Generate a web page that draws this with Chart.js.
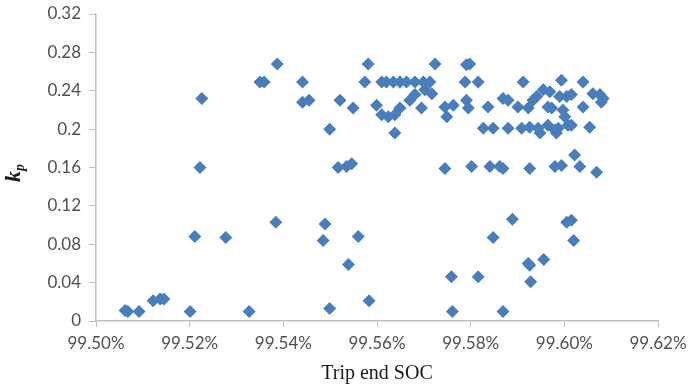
<!doctype html>
<html lang="en">
<head>
    <meta charset="UTF-8" />
    <title>Trip end SOC vs kp</title>
    <style>
        body {
            margin: 0;
            background: #fff;
        }
        .chart-container {
            position: relative;
            width: 689px;
            height: 387px;
        }
    </style>
</head>
<body>
    <div class="chart-container">
        <canvas id="kpChart"></canvas>
    </div>

    <script src="https://cdn.jsdelivr.net/npm/chart.js"></script>
    <script>
        // Trip end SOC (%) and kp
        const tripEndSoc = [
            99.5062, 99.5068, 99.5092, 99.5122, 99.5137, 99.5145, 99.5201, 99.5211, 99.5222, 99.5226,
            99.5277, 99.5327, 99.5350, 99.5359, 99.5384, 99.5387, 99.5441, 99.5441, 99.5455, 99.5485,
            99.5489, 99.5499, 99.5499, 99.5517, 99.5521, 99.5535, 99.5539, 99.5546, 99.5549, 99.5560,
            99.5574, 99.5581, 99.5583, 99.5599, 99.5610, 99.5610, 99.5620, 99.5624, 99.5635, 99.5638,
            99.5638, 99.5649, 99.5649, 99.5663, 99.5670, 99.5681, 99.5681, 99.5695, 99.5699, 99.5702,
            99.5713, 99.5717, 99.5724, 99.5745, 99.5749, 99.5745, 99.5759, 99.5761, 99.5763, 99.5788,
            99.5791, 99.5798, 99.5791, 99.5795, 99.5802, 99.5816, 99.5816, 99.5827, 99.5837, 99.5841,
            99.5848, 99.5848, 99.5862, 99.5869, 99.5869, 99.5869, 99.5880, 99.5880, 99.5889, 99.5901,
            99.5909, 99.5912, 99.5923, 99.5923, 99.5926, 99.5926, 99.5926, 99.5928, 99.5933, 99.5941,
            99.5944, 99.5948, 99.5955, 99.5956, 99.5965, 99.5965, 99.5969, 99.5973, 99.5980, 99.5980,
            99.5983, 99.5987, 99.5990, 99.5994, 99.5994, 99.5997, 99.6001, 99.6005, 99.6005, 99.6008,
            99.6015, 99.6015, 99.6015, 99.6020, 99.6022, 99.6033, 99.6040, 99.6040, 99.6054, 99.6061,
            99.6069, 99.6076, 99.6079, 99.6083
        ];
        const kpValues = [
            0.011, 0.010, 0.010, 0.021, 0.023, 0.023, 0.010, 0.088, 0.160, 0.232,
            0.087, 0.010, 0.249, 0.249, 0.103, 0.268, 0.249, 0.228, 0.230, 0.084,
            0.101, 0.200, 0.013, 0.160, 0.230, 0.161, 0.059, 0.164, 0.222, 0.088,
            0.249, 0.268, 0.021, 0.225, 0.249, 0.215, 0.249, 0.213, 0.249, 0.215,
            0.196, 0.249, 0.222, 0.249, 0.230, 0.236, 0.249, 0.222, 0.249, 0.241,
            0.249, 0.237, 0.268, 0.223, 0.213, 0.159, 0.046, 0.010, 0.225, 0.249,
            0.267, 0.268, 0.230, 0.222, 0.161, 0.249, 0.046, 0.201, 0.223, 0.161,
            0.201, 0.087, 0.161, 0.232, 0.159, 0.010, 0.230, 0.201, 0.106, 0.223,
            0.201, 0.249, 0.222, 0.060, 0.202, 0.159, 0.058, 0.041, 0.230, 0.234,
            0.201, 0.196, 0.241, 0.064, 0.223, 0.204, 0.239, 0.222, 0.199, 0.161,
            0.196, 0.201, 0.234, 0.251, 0.162, 0.220, 0.213, 0.234, 0.103, 0.204,
            0.236, 0.204, 0.105, 0.084, 0.173, 0.161, 0.249, 0.223, 0.202, 0.237,
            0.155, 0.236, 0.228, 0.232
        ];
        const xTicks = [99.50, 99.52, 99.54, 99.56, 99.58, 99.60, 99.62];
        const yTicks = [0, 0.04, 0.08, 0.12, 0.16, 0.2, 0.24, 0.28, 0.32];

        const points = tripEndSoc.map((x, i) => ({ x: x, y: kpValues[i] }));

        const axisGrey = '#bfbfbf';
        const tickFont = { family: 'Lato', size: 17 };

        // axis titles: x title in serif, y title k with subscript p
        const axisTitles = {
            id: 'axisTitles',
            afterDraw(chart) {
                const ctx = chart.ctx;
                const area = chart.chartArea;
                ctx.save();
                ctx.fillStyle = '#1a1a1a';
                ctx.textAlign = 'center';
                ctx.textBaseline = 'middle';
                ctx.font = '20px "Liberation Serif"';
                ctx.fillText('Trip end SOC', (area.left + area.right) / 2, 374);

                ctx.translate(14, 172);
                ctx.rotate(-Math.PI / 2);
                ctx.textAlign = 'left';
                ctx.textBaseline = 'alphabetic';
                ctx.font = 'italic bold 22px "Liberation Serif"';
                const kw = ctx.measureText('k').width;
                ctx.fillText('k', -10, 6);
                ctx.font = 'italic bold 14px "Liberation Serif"';
                ctx.fillText('p', -10 + kw, 10);
                ctx.restore();
            }
        };

        const ctx = document.getElementById('kpChart').getContext('2d');
        new Chart(ctx, {
            type: 'scatter',
            data: {
                datasets: [{
                    label: 'kp',
                    data: points,
                    pointStyle: 'rectRot',
                    pointRadius: 6.5,
                    pointHoverRadius: 6.5,
                    backgroundColor: '#4a7ebb',
                    borderColor: '#4a7ebb',
                    borderWidth: 0
                }]
            },
            options: {
                responsive: true,
                maintainAspectRatio: false,
                animation: false,
                layout: {
                    padding: { top: 14, right: 31, left: 0, bottom: 0 }
                },
                plugins: {
                    legend: { display: false },
                    tooltip: { enabled: false }
                },
                scales: {
                    x: {
                        type: 'linear',
                        min: xTicks[0],
                        max: xTicks[xTicks.length - 1],
                        afterBuildTicks: (scale) => {
                            scale.ticks = xTicks.map(v => ({ value: v }));
                        },
                        afterFit: (scale) => {
                            scale.height = 66;
                            scale.paddingLeft = 0;
                            scale.paddingRight = 0;
                        },
                        grid: {
                            drawOnChartArea: false,
                            drawTicks: true,
                            tickLength: 6,
                            color: axisGrey
                        },
                        border: { display: true, color: axisGrey, width: 1.5 },
                        ticks: {
                            font: tickFont,
                            color: '#505050',
                            padding: 6,
                            maxRotation: 0,
                            callback: (v) => v.toFixed(2) + '%'
                        }
                    },
                    y: {
                        min: yTicks[0],
                        max: yTicks[yTicks.length - 1],
                        afterBuildTicks: (scale) => {
                            scale.ticks = yTicks.map(v => ({ value: v }));
                        },
                        afterFit: (scale) => {
                            scale.width = 96;
                            scale.paddingTop = 0;
                            scale.paddingBottom = 0;
                        },
                        grid: {
                            drawOnChartArea: false,
                            drawTicks: true,
                            tickLength: 7,
                            color: axisGrey
                        },
                        border: { display: true, color: axisGrey, width: 1.5 },
                        ticks: {
                            font: tickFont,
                            color: '#505050',
                            padding: 8,
                            callback: (v) => String(parseFloat(v.toFixed(2)))
                        }
                    }
                }
            },
            plugins: [axisTitles]
        });
    </script>
</body>
</html>
